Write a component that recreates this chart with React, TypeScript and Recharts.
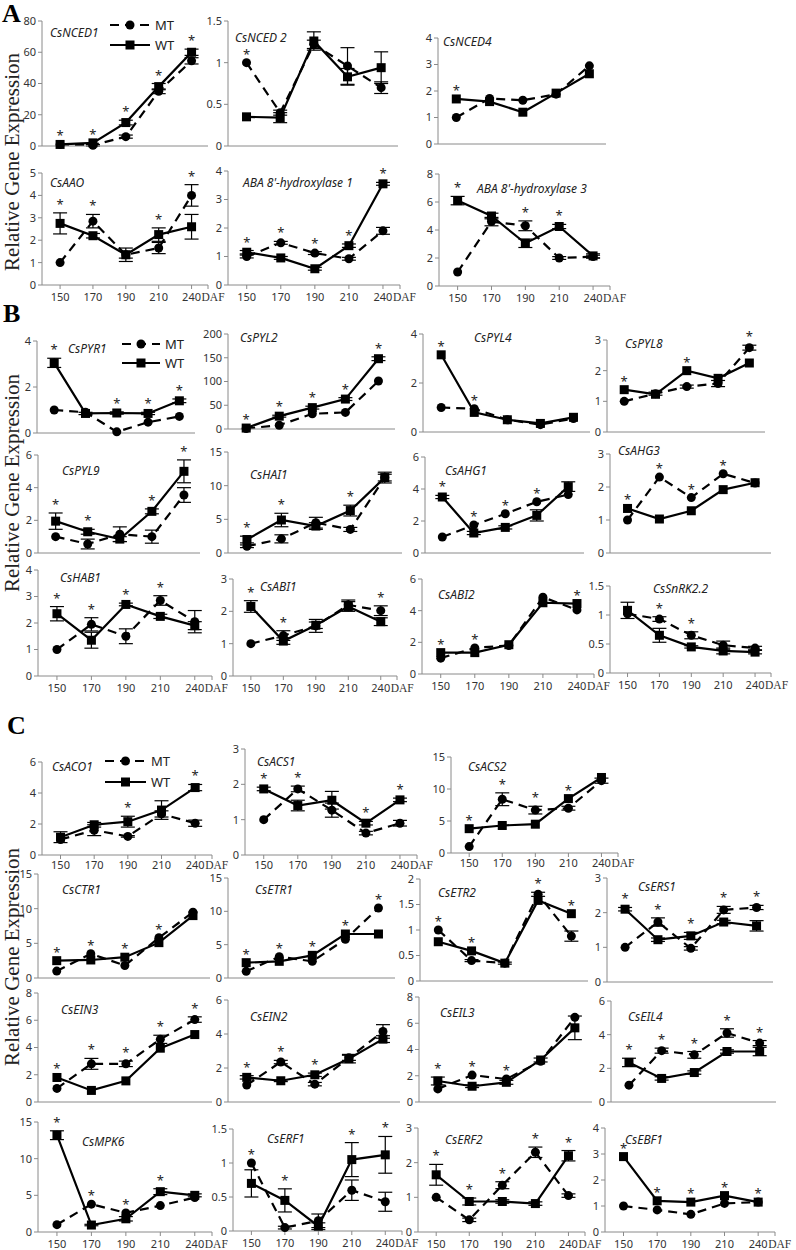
import { ErrorBar, Line, LineChart, XAxis, YAxis } from "recharts"

const DAF = ["150", "170", "190", "210", "240"]

// ---- A: ABA biosynthesis / catabolism
const nced1MT = [1, 0.5, 6, 35, 54.5]
const nced1WT = [1, 2, 15, 38, 60]
const nced1Star = [1, 1, 1, 1, 1]
const nced1MTErr = [0, 0.5, 1, 1.5, 2]
const nced1WTErr = [0, 0, 1.5, 2, 2]

const nced2MT = [1, 0.4, 1.22, 0.96, 0.7]
const nced2WT = [0.35, 0.34, 1.26, 0.83, 0.94]
const nced2Star = [1, 0, 0, 0, 0]
const nced2MTErr = [0, 0.03, 0.05, 0.22, 0.07]
const nced2WTErr = [0, 0.06, 0.11, 0.1, 0.19]

const nced4MT = [1, 1.72, 1.65, 1.88, 2.95]
const nced4WT = [1.7, 1.6, 1.2, 1.92, 2.65]
const nced4Star = [1, 0, 0, 0, 0]

const aaoMT = [1, 2.85, 1.35, 1.65, 4.0]
const aaoWT = [2.75, 2.2, 1.35, 2.25, 2.6]
const aaoStar = [1, 1, 0, 1, 1]
const aaoMTErr = [0, 0.3, 0.15, 0.25, 0.48]
const aaoWTErr = [0.47, 0.1, 0.3, 0.3, 0.55]

const aba1MT = [1, 1.48, 1.12, 0.92, 1.9]
const aba1WT = [1.15, 0.95, 0.57, 1.38, 3.55]
const aba1Star = [1, 1, 1, 1, 1]
const aba1MTErr = [0.05, 0.05, 0.05, 0.05, 0.12]
const aba1WTErr = [0.06, 0.05, 0.05, 0.06, 0.05]

const aba3MT = [1, 4.6, 4.3, 2.0, 2.1]
const aba3WT = [6.1, 5.0, 3.05, 4.25, 2.15]
const aba3Star = [1, 0, 1, 1, 0]
const aba3MTErr = [0, 0.3, 0.35, 0.1, 0.1]
const aba3WTErr = [0.3, 0.2, 0.3, 0.15, 0.15]

// ---- B: ABA signalling
const pyr1MT = [1, 0.9, 0.05, 0.47, 0.72]
const pyr1WT = [3.05, 0.85, 0.87, 0.85, 1.4]
const pyr1Star = [1, 0, 1, 1, 1]
const pyr1WTErr = [0.2, 0.05, 0.05, 0.05, 0.08]

const pyl2MT = [1, 8, 32, 35, 101]
const pyl2WT = [2, 27, 45, 63, 148]
const pyl2Star = [1, 1, 1, 1, 1]
const pyl2WTErr = [0, 2, 3, 3, 4]

const pyl4MT = [1, 0.95, 0.5, 0.3, 0.55]
const pyl4WT = [3.15, 0.8, 0.5, 0.35, 0.6]
const pyl4Star = [1, 1, 0, 0, 0]

const pyl8MT = [1, 1.25, 1.48, 1.58, 2.75]
const pyl8WT = [1.38, 1.23, 2.0, 1.75, 2.25]
const pyl8Star = [1, 0, 1, 0, 1]
const pyl8MTErr = [0, 0.05, 0.05, 0.1, 0.08]

const pyl9MT = [1, 0.55, 1.15, 1.0, 3.55]
const pyl9WT = [1.95, 1.3, 0.85, 2.55, 5.0]
const pyl9Star = [1, 1, 0, 1, 1]
const pyl9MTErr = [0, 0.3, 0.45, 0.4, 0.45]
const pyl9WTErr = [0.5, 0.15, 0.15, 0.15, 0.7]

const hai1MT = [1, 2.1, 4.5, 3.5, 11.2]
const hai1WT = [2.0, 4.9, 4.0, 6.3, 11.2]
const hai1Star = [1, 1, 0, 1, 0]
const hai1MTErr = [0.2, 0.6, 0.8, 0.3, 0.5]
const hai1WTErr = [0.5, 1.0, 0.5, 0.8, 0.8]

const ahg1MT = [1, 1.75, 2.45, 3.2, 3.65]
const ahg1WT = [3.5, 1.25, 1.6, 2.35, 4.15]
const ahg1Star = [1, 1, 1, 1, 0]
const ahg1WTErr = [0.1, 0.1, 0.1, 0.35, 0.3]

const ahg3MT = [1, 2.3, 1.68, 2.4, 2.12]
const ahg3WT = [1.35, 1.03, 1.28, 1.92, 2.13]
const ahg3Star = [1, 1, 1, 1, 0]

const hab1MT = [1, 1.95, 1.5, 2.85, 2.05]
const hab1WT = [2.35, 1.35, 2.7, 2.25, 1.9]
const hab1Star = [1, 1, 1, 1, 0]
const hab1MTErr = [0, 0.25, 0.28, 0.18, 0.42]
const hab1WTErr = [0.27, 0.3, 0.05, 0.08, 0.15]

const abi1MT = [1, 1.25, 1.55, 2.2, 2.02]
const abi1WT = [2.15, 1.08, 1.57, 2.15, 1.68]
const abi1Star = [1, 1, 0, 0, 1]
const abi1MTErr = [0, 0.15, 0.2, 0.15, 0.15]
const abi1WTErr = [0.18, 0.1, 0.1, 0.15, 0.12]

const abi2MT = [1, 1.65, 1.8, 4.85, 4.05]
const abi2WT = [1.35, 1.35, 1.85, 4.5, 4.45]
const abi2Star = [1, 1, 0, 0, 1]

const snrkMT = [1.02, 0.93, 0.65, 0.48, 0.43]
const snrkWT = [1.08, 0.65, 0.45, 0.38, 0.36]
const snrkStar = [0, 1, 1, 0, 0]
const snrkMTErr = [0, 0.04, 0.06, 0.07, 0.03]
const snrkWTErr = [0.14, 0.12, 0.02, 0.05, 0.03]

// ---- C: ethylene
const aco1MT = [1, 1.6, 1.2, 2.65, 2.05]
const aco1WT = [1.15, 1.95, 2.15, 2.9, 4.35]
const aco1Star = [0, 0, 1, 0, 1]
const aco1MTErr = [0, 0.35, 0.05, 0.2, 0.2]
const aco1WTErr = [0.35, 0.15, 0.35, 0.6, 0.2]

const acs1MT = [1, 1.87, 1.27, 0.62, 0.9]
const acs1WT = [1.87, 1.4, 1.55, 0.9, 1.56]
const acs1Star = [1, 1, 0, 1, 1]
const acs1MTErr = [0, 0.08, 0.2, 0.05, 0.08]
const acs1WTErr = [0.05, 0.15, 0.25, 0.05, 0.05]

const acs2MT = [1, 8.4, 6.7, 7.0, 11.3]
const acs2WT = [3.8, 4.3, 4.5, 8.5, 11.8]
const acs2Star = [1, 1, 1, 1, 0]
const acs2MTErr = [0, 1.0, 0.6, 0.3, 0.4]

const ctr1MT = [1, 3.5, 1.8, 5.8, 9.5]
const ctr1WT = [2.5, 2.6, 3.0, 5.1, 9.0]
const ctr1Star = [1, 1, 1, 1, 0]

const etr1MT = [1, 3.2, 2.5, 5.8, 10.5]
const etr1WT = [2.3, 2.5, 3.4, 6.6, 6.6]
const etr1Star = [1, 1, 1, 1, 1]

const etr2MT = [1, 0.4, 0.35, 1.7, 0.88]
const etr2WT = [0.77, 0.59, 0.35, 1.58, 1.32]
const etr2Star = [1, 1, 0, 1, 1]
const etr2MTErr = [0, 0.02, 0.02, 0.04, 0.1]

const ers1MT = [1, 1.73, 0.97, 2.08, 2.15]
const ers1WT = [2.1, 1.22, 1.33, 1.73, 1.62]
const ers1Star = [1, 1, 1, 1, 1]
const ers1MTErr = [0, 0.12, 0.05, 0.1, 0.06]
const ers1WTErr = [0.05, 0.05, 0.1, 0.05, 0.15]

const ein3MT = [1, 2.8, 2.8, 4.6, 6.05]
const ein3WT = [1.8, 0.85, 1.55, 3.95, 4.95]
const ein3Star = [1, 1, 1, 1, 1]
const ein3MTErr = [0, 0.4, 0.2, 0.3, 0.2]

const ein2MT = [1, 2.35, 1.05, 2.6, 4.15]
const ein2WT = [1.45, 1.25, 1.6, 2.55, 3.7]
const ein2Star = [1, 1, 1, 0, 0]
const ein2MTErr = [0, 0.1, 0.1, 0.15, 0.4]
const ein2WTErr = [0.1, 0.05, 0.1, 0.25, 0.2]

const eil3MT = [1, 2.05, 1.75, 3.1, 6.45]
const eil3WT = [1.6, 1.2, 1.5, 3.2, 5.65]
const eil3Star = [1, 1, 1, 0, 0]
const eil3WTErr = [0.3, 0.1, 0.15, 0.15, 0.9]

const eil4MT = [1, 3.05, 2.8, 4.1, 3.5]
const eil4WT = [2.35, 1.4, 1.75, 3.0, 3.0]
const eil4Star = [1, 1, 1, 1, 1]
const eil4MTErr = [0, 0.15, 0.2, 0.25, 0.15]
const eil4WTErr = [0.25, 0.1, 0.1, 0.1, 0.25]

const mpk6MT = [1, 3.8, 2.6, 3.6, 4.7]
const mpk6WT = [13.2, 0.95, 1.8, 5.5, 5.0]
const mpk6Star = [1, 1, 1, 1, 0]
const mpk6WTErr = [0.6, 0.1, 0.3, 0.4, 0.2]

const erf1MT = [1, 0.05, 0.15, 0.6, 0.43]
const erf1WT = [0.7, 0.45, 0.07, 1.05, 1.12]
const erf1Star = [1, 1, 0, 1, 1]
const erf1MTErr = [0, 0.02, 0.1, 0.15, 0.14]
const erf1WTErr = [0.2, 0.17, 0.05, 0.25, 0.27]

const erf2MT = [1, 0.35, 1.35, 2.3, 1.05]
const erf2WT = [1.65, 0.88, 0.88, 0.82, 2.2]
const erf2Star = [1, 1, 1, 1, 1]
const erf2MTErr = [0, 0.05, 0.1, 0.15, 0.05]
const erf2WTErr = [0.3, 0.1, 0.05, 0.05, 0.15]

const ebf1MT = [1, 0.85, 0.68, 1.1, 1.15]
const ebf1WT = [2.9, 1.2, 1.15, 1.4, 1.15]
const ebf1Star = [1, 1, 1, 1, 1]

type PanelDef = {
  title: string
  mt: number[]
  wt: number[]
  star: number[]
  mtErr?: number[]
  wtErr?: number[]
  yMax: number
  step: number
  x0: number
  x1: number
  yTop: number
  y0: number
  tx: number
  ty: number
  labels?: number // baseline offset of the day labels, if shown
}

const panels: PanelDef[] = [
  // A
  { title: "CsNCED1", mt: nced1MT, wt: nced1WT, star: nced1Star, mtErr: nced1MTErr, wtErr: nced1WTErr, yMax: 80, step: 20, x0: 42, x1: 208, yTop: 21, y0: 146, tx: 50, ty: 33 },
  { title: "CsNCED 2", mt: nced2MT, wt: nced2WT, star: nced2Star, mtErr: nced2MTErr, wtErr: nced2WTErr, yMax: 1.5, step: 0.5, x0: 228, x1: 398, yTop: 21, y0: 146, tx: 235, ty: 38 },
  { title: "CsNCED4", mt: nced4MT, wt: nced4WT, star: nced4Star, yMax: 4, step: 1, x0: 438, x1: 606, yTop: 38, y0: 144, tx: 443, ty: 42 },
  { title: "CsAAO", mt: aaoMT, wt: aaoWT, star: aaoStar, mtErr: aaoMTErr, wtErr: aaoWTErr, yMax: 5, step: 1, x0: 42, x1: 208, yTop: 173, y0: 285, tx: 50, ty: 183, labels: 10 },
  { title: "ABA 8'-hydroxylase 1", mt: aba1MT, wt: aba1WT, star: aba1Star, mtErr: aba1MTErr, wtErr: aba1WTErr, yMax: 4, step: 1, x0: 228, x1: 400, yTop: 171, y0: 285, tx: 243, ty: 183, labels: 10 },
  { title: "ABA 8'-hydroxylase 3", mt: aba3MT, wt: aba3WT, star: aba3Star, mtErr: aba3MTErr, wtErr: aba3WTErr, yMax: 8, step: 2, x0: 439, x1: 610, yTop: 174, y0: 286, tx: 477, ty: 189, labels: 10 },
  // B
  { title: "CsPYR1", mt: pyr1MT, wt: pyr1WT, star: pyr1Star, wtErr: pyr1WTErr, yMax: 4, step: 2, x0: 37, x1: 195, yTop: 341, y0: 433, tx: 68, ty: 349 },
  { title: "CsPYL2", mt: pyl2MT, wt: pyl2WT, star: pyl2Star, wtErr: pyl2WTErr, yMax: 200, step: 50, x0: 228, x1: 395, yTop: 334, y0: 429, tx: 240, ty: 338 },
  { title: "CsPYL4", mt: pyl4MT, wt: pyl4WT, star: pyl4Star, yMax: 4, step: 2, x0: 423, x1: 590, yTop: 334, y0: 432, tx: 474, ty: 338 },
  { title: "CsPYL8", mt: pyl8MT, wt: pyl8WT, star: pyl8Star, mtErr: pyl8MTErr, yMax: 3, step: 1, x0: 607, x1: 765, yTop: 340, y0: 432, tx: 625, ty: 344 },
  { title: "CsPYL9", mt: pyl9MT, wt: pyl9WT, star: pyl9Star, mtErr: pyl9MTErr, wtErr: pyl9WTErr, yMax: 6, step: 2, x0: 38, x1: 200, yTop: 455, y0: 553, tx: 62, ty: 471 },
  { title: "CsHAI1", mt: hai1MT, wt: hai1WT, star: hai1Star, mtErr: hai1MTErr, wtErr: hai1WTErr, yMax: 15, step: 5, x0: 228, x1: 402, yTop: 452, y0: 553, tx: 250, ty: 475 },
  { title: "CsAHG1", mt: ahg1MT, wt: ahg1WT, star: ahg1Star, wtErr: ahg1WTErr, yMax: 6, step: 2, x0: 425, x1: 584, yTop: 457, y0: 553, tx: 445, ty: 471 },
  { title: "CsAHG3", mt: ahg3MT, wt: ahg3WT, star: ahg3Star, yMax: 3, step: 1, x0: 610, x1: 771, yTop: 454, y0: 553, tx: 618, ty: 451 },
  { title: "CsHAB1", mt: hab1MT, wt: hab1WT, star: hab1Star, mtErr: hab1MTErr, wtErr: hab1WTErr, yMax: 4, step: 1, x0: 38, x1: 212, yTop: 570, y0: 676, tx: 60, ty: 578, labels: 10 },
  { title: "CsABI1", mt: abi1MT, wt: abi1WT, star: abi1Star, mtErr: abi1MTErr, wtErr: abi1WTErr, yMax: 3, step: 1, x0: 233, x1: 397, yTop: 579, y0: 676, tx: 260, ty: 587, labels: 10 },
  { title: "CsABI2", mt: abi2MT, wt: abi2WT, star: abi2Star, yMax: 6, step: 2, x0: 422, x1: 594, yTop: 579, y0: 674, tx: 438, ty: 595, labels: 10 },
  { title: "CsSnRK2.2", mt: snrkMT, wt: snrkWT, star: snrkStar, mtErr: snrkMTErr, wtErr: snrkWTErr, yMax: 1.5, step: 0.5, x0: 610, x1: 771, yTop: 586, y0: 673, tx: 653, ty: 589, labels: 10 },
  // C
  { title: "CsACO1", mt: aco1MT, wt: aco1WT, star: aco1Star, mtErr: aco1MTErr, wtErr: aco1WTErr, yMax: 6, step: 2, x0: 42, x1: 212, yTop: 762, y0: 855, tx: 52, ty: 767, labels: 8 },
  { title: "CsACS1", mt: acs1MT, wt: acs1WT, star: acs1Star, mtErr: acs1MTErr, wtErr: acs1WTErr, yMax: 3, step: 1, x0: 245, x1: 417, yTop: 749, y0: 855, tx: 257, ty: 762, labels: 8 },
  { title: "CsACS2", mt: acs2MT, wt: acs2WT, star: acs2Star, mtErr: acs2MTErr, yMax: 15, step: 5, x0: 451, x1: 618, yTop: 757, y0: 853, tx: 468, ty: 767, labels: 8 },
  { title: "CsCTR1", mt: ctr1MT, wt: ctr1WT, star: ctr1Star, yMax: 15, step: 5, x0: 38, x1: 210, yTop: 874, y0: 978, tx: 62, ty: 890 },
  { title: "CsETR1", mt: etr1MT, wt: etr1WT, star: etr1Star, yMax: 15, step: 5, x0: 228, x1: 395, yTop: 878, y0: 978, tx: 255, ty: 890 },
  { title: "CsETR2", mt: etr2MT, wt: etr2WT, star: etr2Star, mtErr: etr2MTErr, yMax: 2, step: 0.5, x0: 420, x1: 588, yTop: 879, y0: 981, tx: 438, ty: 893 },
  { title: "CsERS1", mt: ers1MT, wt: ers1WT, star: ers1Star, mtErr: ers1MTErr, wtErr: ers1WTErr, yMax: 3, step: 1, x0: 607, x1: 773, yTop: 878, y0: 982, tx: 638, ty: 887 },
  { title: "CsEIN3", mt: ein3MT, wt: ein3WT, star: ein3Star, mtErr: ein3MTErr, yMax: 8, step: 2, x0: 38, x1: 212, yTop: 993, y0: 1102, tx: 61, ty: 1010 },
  { title: "CsEIN2", mt: ein2MT, wt: ein2WT, star: ein2Star, mtErr: ein2MTErr, wtErr: ein2WTErr, yMax: 6, step: 2, x0: 228, x1: 400, yTop: 1000, y0: 1102, tx: 250, ty: 1017 },
  { title: "CsEIL3", mt: eil3MT, wt: eil3WT, star: eil3Star, wtErr: eil3WTErr, yMax: 8, step: 2, x0: 419, x1: 592, yTop: 997, y0: 1102, tx: 440, ty: 1013 },
  { title: "CsEIL4", mt: eil4MT, wt: eil4WT, star: eil4Star, mtErr: eil4MTErr, wtErr: eil4WTErr, yMax: 6, step: 2, x0: 611, x1: 776, yTop: 1001, y0: 1102, tx: 628, ty: 1017 },
  { title: "CsMPK6", mt: mpk6MT, wt: mpk6WT, star: mpk6Star, wtErr: mpk6WTErr, yMax: 15, step: 5, x0: 38, x1: 212, yTop: 1122, y0: 1232, tx: 82, ty: 1142, labels: 10 },
  { title: "CsERF1", mt: erf1MT, wt: erf1WT, star: erf1Star, mtErr: erf1MTErr, wtErr: erf1WTErr, yMax: 1.5, step: 0.5, x0: 233, x1: 402, yTop: 1129, y0: 1231, tx: 267, ty: 1139, labels: 10 },
  { title: "CsERF2", mt: erf2MT, wt: erf2WT, star: erf2Star, mtErr: erf2MTErr, wtErr: erf2WTErr, yMax: 3, step: 1, x0: 418, x1: 585, yTop: 1128, y0: 1232, tx: 445, ty: 1140, labels: 10 },
  { title: "CsEBF1", mt: ebf1MT, wt: ebf1WT, star: ebf1Star, yMax: 4, step: 1, x0: 605, x1: 775, yTop: 1128, y0: 1232, tx: 625, ty: 1140, labels: 10 },
]

const AXIS = "#8a8a8a"
const TXT = "#333"
const SANS = "'Noto Sans', 'DejaVu Sans', sans-serif"
const SERIF = "'Liberation Serif', 'DejaVu Serif', serif"

const CircleDot = (props: any) => {
  const { cx, cy, index } = props
  if (cx == null || cy == null) return <g key={`c${index}`} />
  return <circle key={`c${index}`} cx={cx} cy={cy} r={4.5} fill="#000" />
}

const SquareDot = (props: any) => {
  const { cx, cy, index } = props
  if (cx == null || cy == null) return <g key={`q${index}`} />
  return <rect key={`q${index}`} x={cx - 4.5} y={cy - 4.5} width={9} height={9} fill="#000" />
}

const StarDot = (props: any) => {
  const { cx, cy, index } = props
  if (cx == null || cy == null || !isFinite(cy)) return <g key={`s${index}`} />
  return (
    <text key={`s${index}`} x={cx} y={cy - 4} textAnchor="middle" fontSize={13} fontFamily={SANS} fill="#222">
      *
    </text>
  )
}

const makeTick = (off: number) => (props: any) => {
  const { x, y, payload, index } = props
  const v = payload.value
  if (v > 4) return <g key={`t${index}`} />
  return (
    <g key={`t${index}`}>
      <text x={x} y={y + off} textAnchor="middle" fontSize={11} fill={TXT} fontFamily={SANS}>
        {DAF[v]}
      </text>
      {v === 4 && (
        <text x={x + 10} y={y + off} fontSize={11.5} fill={TXT} fontFamily={SERIF}>
          DAF
        </text>
      )}
    </g>
  )
}

function Panel({ p }: { p: PanelDef }) {
  const data = DAF.map((d, i) => {
    const mtE = p.mtErr ? p.mtErr[i] : 0
    const wtE = p.wtErr ? p.wtErr[i] : 0
    return {
      i,
      day: d,
      mt: p.mt[i],
      wt: p.wt[i],
      mtE,
      wtE,
      star: p.star[i] ? Math.max(p.mt[i] + mtE, p.wt[i] + wtE) : null,
    }
  })
  const yTicks: number[] = []
  for (let k = 0; k * p.step <= p.yMax + 1e-9; k++) yTicks.push(Math.round(k * p.step * 100) / 100)

  const padL = 34
  const padT = 16
  const padR = 34
  const xh = 24
  const w = p.x1 - p.x0 + padL + padR
  const h = p.y0 - p.yTop + padT + xh

  return (
    <>
      <div style={{ position: "absolute", left: p.x0 - padL, top: p.yTop - padT }}>
        <LineChart width={w} height={h} data={data} margin={{ top: padT, right: padR, left: 0, bottom: 0 }}>
          <XAxis
            type="number"
            dataKey="i"
            domain={[-0.55, 4.5]}
            ticks={[0, 1, 2, 3, 4, 4.5]}
            interval={0}
            height={xh}
            stroke={AXIS}
            tickSize={4}
            tick={p.labels ? makeTick(p.labels) : false}
          />
          <YAxis
            type="number"
            domain={[0, p.yMax]}
            ticks={yTicks}
            interval={0}
            width={padL}
            stroke={AXIS}
            tickSize={4}
            tick={{ fontSize: 11, fill: TXT, fontFamily: SANS }}
          />
          <Line
            dataKey="mt"
            stroke="#000"
            strokeWidth={2.2}
            strokeDasharray="9 6"
            dot={CircleDot}
            activeDot={false}
            isAnimationActive={false}
          >
            <ErrorBar dataKey="mtE" width={7} stroke="#000" strokeWidth={1.2} direction="y" />
          </Line>
          <Line
            dataKey="wt"
            stroke="#000"
            strokeWidth={2.2}
            dot={SquareDot}
            activeDot={false}
            isAnimationActive={false}
          >
            <ErrorBar dataKey="wtE" width={7} stroke="#000" strokeWidth={1.2} direction="y" />
          </Line>
          <Line dataKey="star" stroke="none" dot={StarDot} activeDot={false} isAnimationActive={false} />
        </LineChart>
      </div>
      <div
        style={{
          position: "absolute",
          left: p.tx,
          top: p.ty - 8,
          fontSize: 12,
          lineHeight: "16px",
          fontStyle: "italic",
          fontFamily: SANS,
          color: "#222",
          whiteSpace: "nowrap",
        }}
      >
        {p.title}
      </div>
    </>
  )
}

function Key({ x, y1, y2, len }: { x: number; y1: number; y2: number; len: number }) {
  const top = y1 - 10
  const a = 10
  const b = y2 - y1 + 10
  return (
    <svg style={{ position: "absolute", left: x, top }} width={len + 30} height={b + 12}>
      <line x1={0} y1={a} x2={len} y2={a} stroke="#000" strokeWidth={2.2} strokeDasharray="9 6" />
      <circle cx={len / 2} cy={a} r={4.5} fill="#000" />
      <text x={len + 5} y={a + 5} fontSize={13} fontFamily={SANS} fill="#222">MT</text>
      <line x1={0} y1={b} x2={len} y2={b} stroke="#000" strokeWidth={2.2} />
      <rect x={len / 2 - 4.5} y={b - 4.5} width={9} height={9} fill="#000" />
      <text x={len + 5} y={b + 5} fontSize={13} fontFamily={SANS} fill="#222">WT</text>
    </svg>
  )
}

function YLabel({ cy }: { cy: number }) {
  return (
    <div
      style={{
        position: "absolute",
        left: 12 - 150,
        top: cy - 12,
        width: 300,
        height: 24,
        lineHeight: "24px",
        textAlign: "center",
        transform: "rotate(-90deg)",
        fontFamily: SERIF,
        fontSize: 21,
        color: "#222",
        whiteSpace: "nowrap",
      }}
    >
      Relative Gene Expression
    </div>
  )
}

function Letter({ ch, x, y }: { ch: string; x: number; y: number }) {
  return (
    <div style={{ position: "absolute", left: x, top: y, fontFamily: SERIF, fontWeight: "bold", fontSize: 26, lineHeight: "28px" }}>
      {ch}
    </div>
  )
}

export default function App() {
  return (
    <div style={{ position: "absolute", left: 0, top: 0, width: 796, height: 1250, background: "#fff", overflow: "hidden" }}>
      <Letter ch="A" x={2} y={0} />
      <Letter ch="B" x={3} y={300} />
      <Letter ch="C" x={7} y={712} />
      <YLabel cy={162} />
      <YLabel cy={483} />
      <YLabel cy={957} />
      {panels.map((p) => (
        <Panel key={p.title} p={p} />
      ))}
      <Key x={110} y1={25} y2={45} len={40} />
      <Key x={122} y1={344} y2={363} len={38} />
      <Key x={105} y1={761} y2={782} len={41} />
    </div>
  )
}
